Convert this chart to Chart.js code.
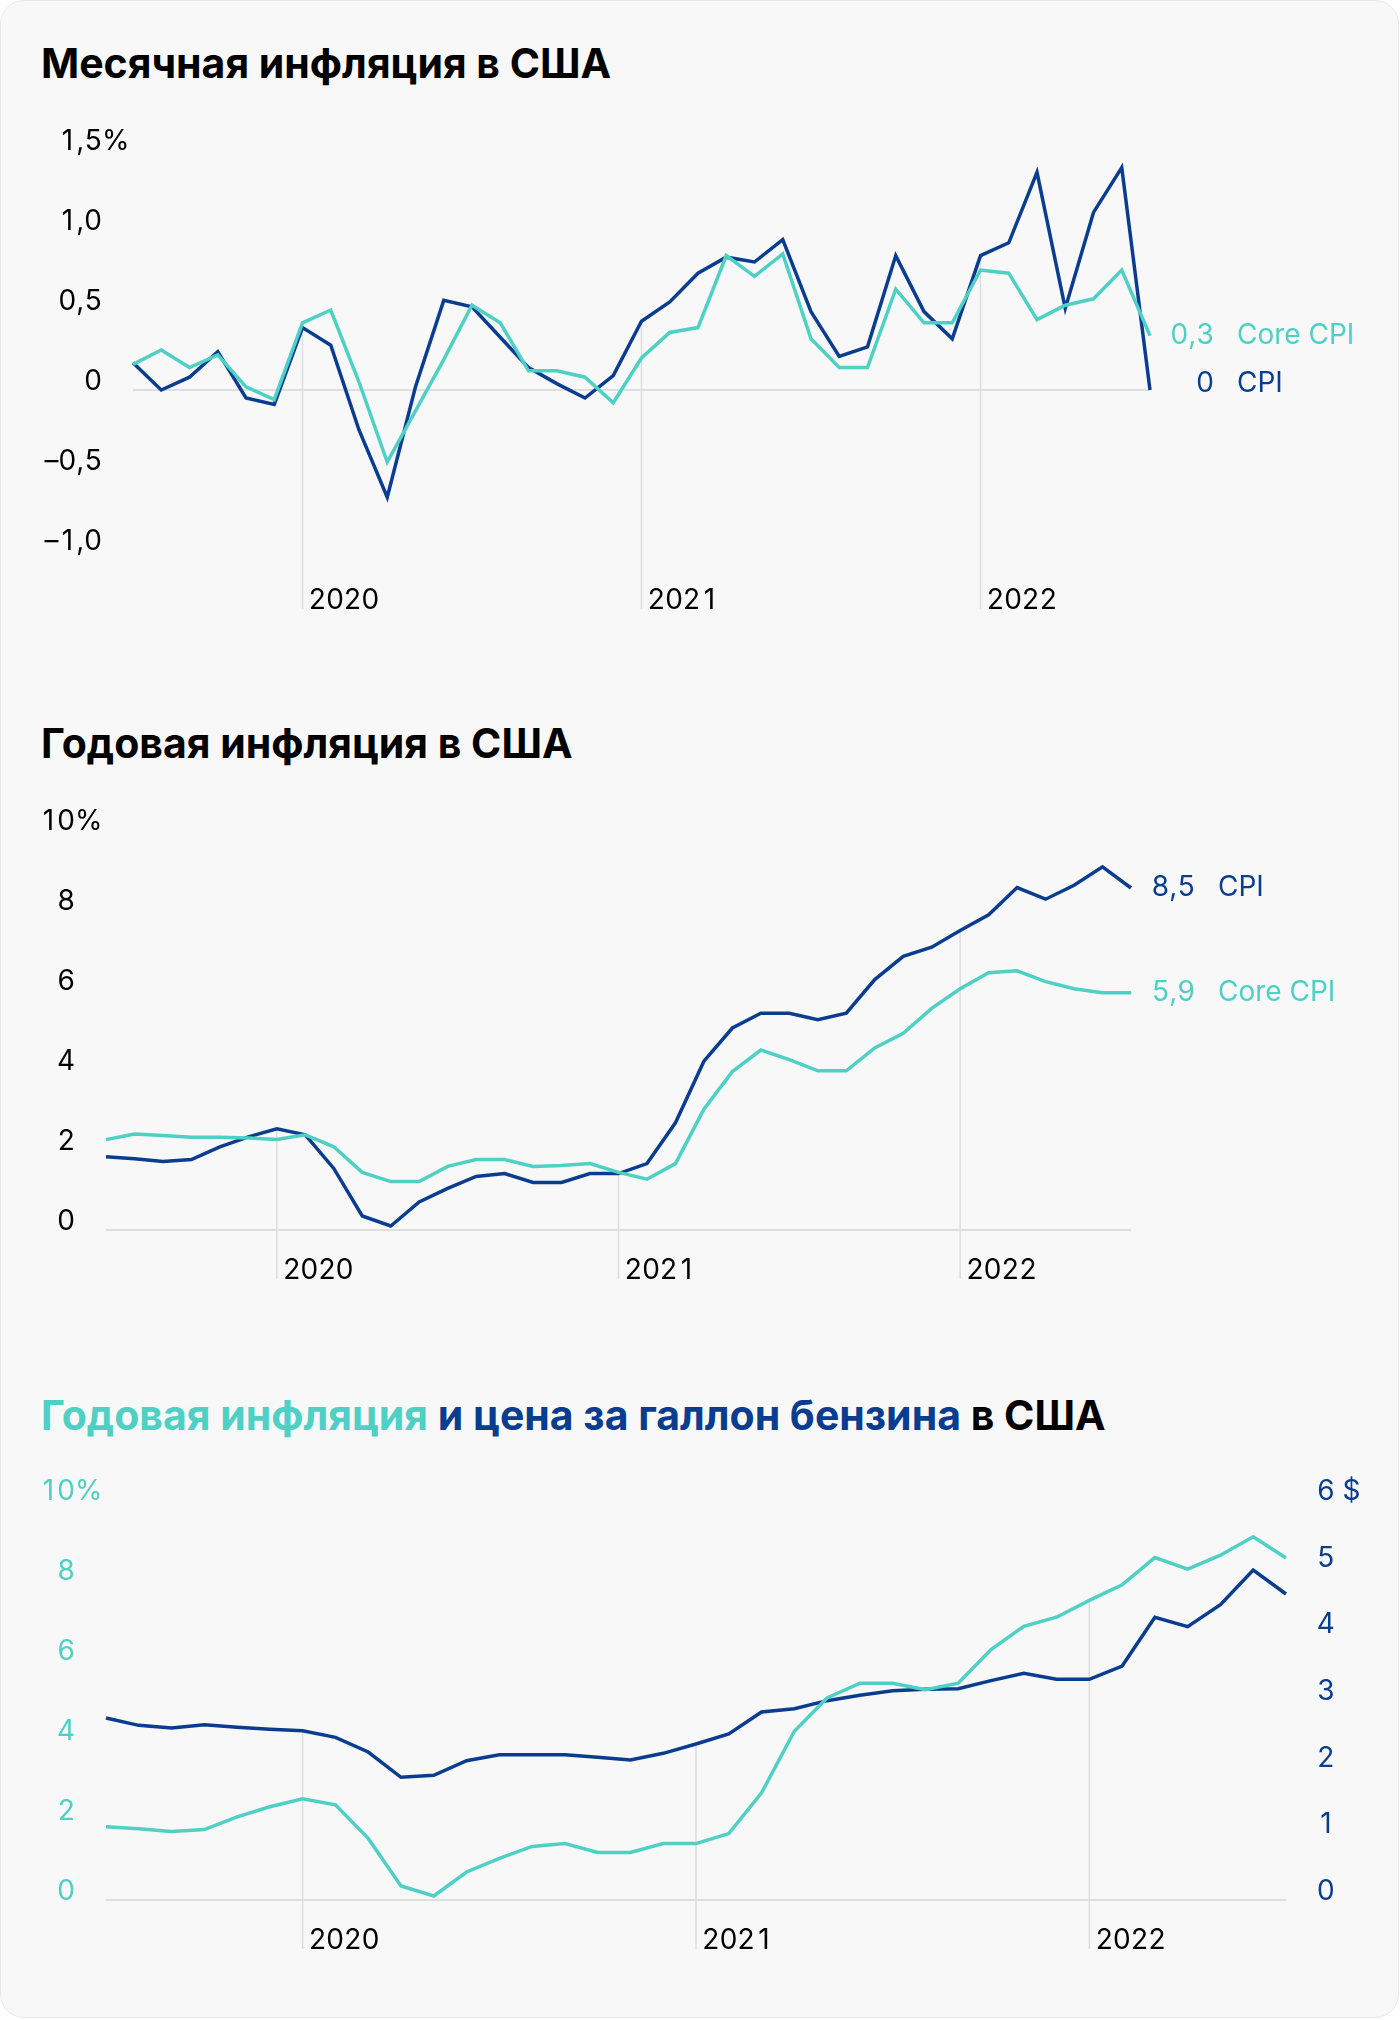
<!DOCTYPE html>
<html lang="ru">
<head>
<meta charset="utf-8">
<title>Инфляция в США</title>
<script src="https://cdn.jsdelivr.net/npm/chart.js@4"></script>
<style>
  body { margin: 0; background: #fff; }
  #page { position: relative; width: 1400px; height: 2020px; }
  .card { position: absolute; left: 0; top: 0; width: 1397px; height: 2016px; background: #f8f8f8;
          border: 1px solid #e8e8e8; border-radius: 24px; }
  .title { position: absolute; left: 41px; font: 700 41px/40px Inter, sans-serif; color: #000; white-space: nowrap; }
  canvas { position: absolute; left: 0; }
</style>
</head>
<body>
<div id="page">
  <div class="card"></div>
  <div class="title" style="top:43px">Месячная инфляция в США</div>
  <div class="title" style="top:723px">Годовая инфляция в США</div>
  <div class="title" style="top:1395px"><span style="color:#4fd0c5">Годовая инфляция</span> <span style="color:#0a3d8f">и цена за галлон бензина</span> в США</div>
  <canvas id="c1" width="1400" height="540" style="top:100px"></canvas>
  <canvas id="c2" width="1400" height="540" style="top:780px"></canvas>
  <canvas id="c3" width="1400" height="540" style="top:1450px"></canvas>
</div>
<script>
// месяцы: июль 2019 - июль 2022
const months = ['2019-07','2019-08','2019-09','2019-10','2019-11','2019-12',
  '2020-01','2020-02','2020-03','2020-04','2020-05','2020-06','2020-07','2020-08','2020-09','2020-10','2020-11','2020-12',
  '2021-01','2021-02','2021-03','2021-04','2021-05','2021-06','2021-07','2021-08','2021-09','2021-10','2021-11','2021-12',
  '2022-01','2022-02','2022-03','2022-04','2022-05','2022-06','2022-07'];
const years = ['2020', '2021', '2022'];

// месячная инфляция, %
const cpiMoM  = [0.17, 0.0, 0.08, 0.24, -0.05, -0.09, 0.39, 0.28, -0.25, -0.67, 0.02, 0.56, 0.52, 0.33, 0.14, 0.04, -0.05, 0.09,
  0.43, 0.55, 0.73, 0.83, 0.80, 0.94, 0.49, 0.21, 0.27, 0.84, 0.49, 0.32, 0.84, 0.92, 1.36, 0.51, 1.11, 1.39, 0.0];
const coreMoM = [0.16, 0.25, 0.14, 0.22, 0.02, -0.06, 0.42, 0.50, 0.05, -0.45, -0.13, 0.19, 0.53, 0.42, 0.12, 0.12, 0.08, -0.08,
  0.20, 0.36, 0.39, 0.84, 0.71, 0.85, 0.32, 0.14, 0.14, 0.63, 0.42, 0.42, 0.75, 0.73, 0.44, 0.53, 0.57, 0.75, 0.34];

// годовая инфляция, %
const cpiYoY  = [1.83, 1.78, 1.71, 1.76, 2.08, 2.33, 2.53, 2.38, 1.54, 0.35, 0.10, 0.70, 1.04, 1.34, 1.41, 1.19, 1.19, 1.41,
  1.41, 1.66, 2.68, 4.22, 5.05, 5.42, 5.42, 5.26, 5.42, 6.26, 6.84, 7.07, 7.49, 7.88, 8.56, 8.27, 8.62, 9.08, 8.55];
const coreYoY = [2.26, 2.40, 2.36, 2.32, 2.32, 2.30, 2.26, 2.38, 2.08, 1.44, 1.21, 1.21, 1.59, 1.76, 1.76, 1.59, 1.61, 1.66,
  1.44, 1.27, 1.66, 3.02, 3.96, 4.50, 4.26, 3.98, 3.98, 4.55, 4.92, 5.54, 6.03, 6.43, 6.48, 6.21, 6.03, 5.93, 5.93];

// цена галлона бензина, $
const gasPrice = [2.73, 2.62, 2.58, 2.63, 2.59, 2.56, 2.54, 2.44, 2.22, 1.84, 1.87, 2.09, 2.18, 2.18, 2.18, 2.14, 2.10, 2.20,
  2.34, 2.49, 2.82, 2.87, 2.99, 3.07, 3.14, 3.16, 3.17, 3.29, 3.40, 3.31, 3.31, 3.51, 4.24, 4.10, 4.43, 4.95, 4.59];

// подписи осей
const momTicks = [-1, -0.5, 0, 0.5, 1, 1.5];
const momLabels = ['–1,0', '–0,5', '0', '0,5', '1,0', '1,5'];
const yoyTicks = [0, 2, 4, 6, 8, 10];
const yoyLabels = ['0', '2', '4', '6', '8', '10'];
const gasTicks = [0, 1, 2, 3, 4, 5, 6];
const gasLabels = ['0', '1', '2', '3', '4', '5', '6 $'];

const NAVY = '#0a3d8f', TEAL = '#4fd0c5', GRID = '#dedede';
const FONT = '28px Inter, sans-serif';

// цифры одинаковой ширины, как в оригинале
function fillTab(ctx, text, x, y, align) {
  const cell = ctx.measureText('0').width;
  const chars = [...text];
  const w = chars.map(ch => /[0-9]/.test(ch) ? cell : ctx.measureText(ch).width);
  let cx = align === 'right' ? x - w.reduce((s, v) => s + v, 0) : x;
  chars.forEach((ch, k) => {
    if (/[0-9]/.test(ch)) { ctx.textAlign = 'center'; ctx.fillText(ch, cx + cell / 2, y); }
    else { ctx.textAlign = 'left'; ctx.fillText(ch, cx, y); }
    cx += w[k];
  });
  return cx;
}

const decor = {
  id: 'decor',
  beforeDatasetsDraw(chart, args, o) {
    const {ctx, chartArea: a, scales} = chart;
    ctx.save();
    ctx.strokeStyle = GRID;
    ctx.lineWidth = 2;
    const y0 = scales[o.zeroAxis].getPixelForValue(0);
    ctx.beginPath(); ctx.moveTo(a.left, y0); ctx.lineTo(a.right, y0); ctx.stroke();
    ctx.font = FONT; ctx.fillStyle = '#000';
    ctx.textBaseline = 'alphabetic';
    years.forEach(yr => {
      const i = months.indexOf(yr + '-01');
      const px = scales.x.getPixelForValue(i);
      let top = a.bottom;
      chart.data.datasets.forEach(ds => {
        top = Math.min(top, scales[ds.yAxisID || 'y'].getPixelForValue(ds.data[i]));
      });
      const bot = a.bottom + o.yearDrop;
      ctx.lineWidth = 1.5;
      ctx.beginPath(); ctx.moveTo(px, top); ctx.lineTo(px, bot); ctx.stroke();
      fillTab(ctx, yr, px + 6, bot, 'left');
    });
    ctx.restore();
  },
  afterDraw(chart, args, o) {
    const {ctx, chartArea: a, scales} = chart;
    ctx.save();
    ctx.font = FONT;
    ctx.textBaseline = 'alphabetic';
    o.axes.forEach(ax => {
      const s = scales[ax.id];
      ctx.fillStyle = ax.color;
      ax.ticks.forEach((v, k) => {
        const y = s.getPixelForValue(v);
        if (ax.side === 'left') {
          fillTab(ctx, ax.labels[k], a.left - 31, y, 'right');
          if (k === ax.ticks.length - 1 && ax.suffix) {
            ctx.textAlign = 'left';
            ctx.fillText(ax.suffix, a.left - 31, y);
          }
        } else {
          fillTab(ctx, ax.labels[k], a.right + 31, y, 'left');
        }
      });
    });
    ctx.textBaseline = 'middle';
    (o.ends || []).forEach(e => {
      const ds = chart.data.datasets[e.ds];
      const y = scales[ds.yAxisID || 'y'].getPixelForValue(ds.data[ds.data.length - 1]) + (e.dy || 0);
      ctx.fillStyle = ds.borderColor;
      fillTab(ctx, e.value, a.right + 64, y, 'right');
      ctx.textAlign = 'left';
      ctx.fillText(e.name, a.right + 87, y);
    });
    ctx.restore();
  }
};

function line(label, data, color, axis) {
  return { label, data, borderColor: color, borderWidth: 3.5, pointRadius: 0, tension: 0,
           borderJoinStyle: 'miter', yAxisID: axis || 'y', clip: false };
}

function makeChart(id, datasets, scales, padding, decorOpts) {
  return new Chart(document.getElementById(id), {
    type: 'line',
    data: { labels: months, datasets },
    options: {
      responsive: false, animation: false,
      layout: { padding },
      scales,
      plugins: { legend: { display: false }, tooltip: { enabled: false }, decor: decorOpts }
    },
    plugins: [decor]
  });
}

document.fonts.load(FONT).then(() => {
  makeChart('c1',
    [line('Core CPI', coreMoM, TEAL), line('CPI', cpiMoM, NAVY)],
    { x: { display: false }, y: { display: false, min: -1, max: 1.5 } },
    { left: 133, right: 250, top: 50, bottom: 90 },
    { zeroAxis: 'y', yearDrop: 59,
      axes: [{ id: 'y', side: 'left', ticks: momTicks, labels: momLabels, suffix: '%', color: '#000' }],
      ends: [{ ds: 0, value: '0,3', name: 'Core CPI' }, { ds: 1, value: '0', name: 'CPI', dy: -6 }] });

  makeChart('c2',
    [line('Core CPI', coreYoY, TEAL), line('CPI', cpiYoY, NAVY)],
    { x: { display: false }, y: { display: false, min: 0, max: 10 } },
    { left: 106, right: 269, top: 50, bottom: 90 },
    { zeroAxis: 'y', yearDrop: 49,
      axes: [{ id: 'y', side: 'left', ticks: yoyTicks, labels: yoyLabels, suffix: '%', color: '#000' }],
      ends: [{ ds: 1, value: '8,5', name: 'CPI' }, { ds: 0, value: '5,9', name: 'Core CPI' }] });

  makeChart('c3',
    [line('Годовая инфляция', cpiYoY, TEAL, 'y'), line('Бензин', gasPrice, NAVY, 'y1')],
    { x: { display: false }, y: { display: false, min: 0, max: 10 }, y1: { display: false, min: 0, max: 6 } },
    { left: 106, right: 114, top: 50, bottom: 90 },
    { zeroAxis: 'y', yearDrop: 49,
      axes: [{ id: 'y', side: 'left', ticks: yoyTicks, labels: yoyLabels, suffix: '%', color: TEAL },
             { id: 'y1', side: 'right', ticks: gasTicks, labels: gasLabels, color: NAVY }] });
});
</script>
</body>
</html>
